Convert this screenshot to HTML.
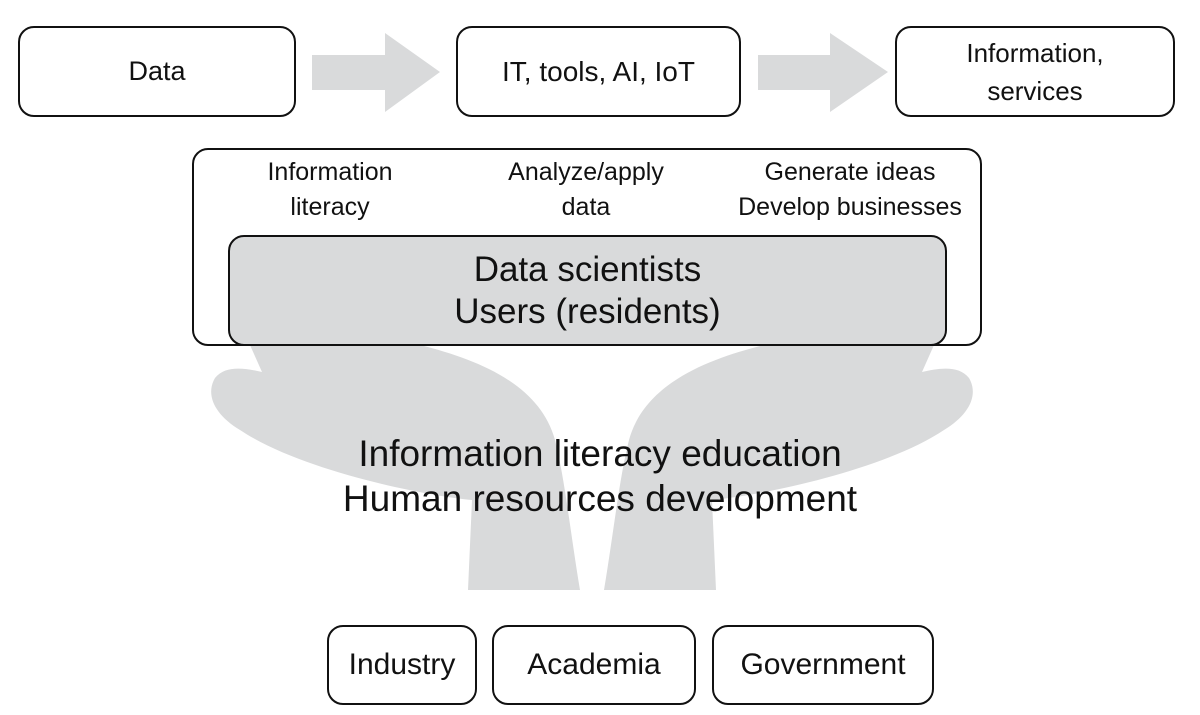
<!DOCTYPE html>
<html><head><style>
body{margin:0;width:1200px;height:715px;background:#fff;overflow:hidden;position:relative;font-family:"Liberation Sans",sans-serif;color:#111}
.b{position:absolute;border:2px solid #111;border-radius:16px;box-sizing:border-box;display:flex;align-items:center;justify-content:center;text-align:center}
.t{position:absolute;text-align:center;font-size:25px;line-height:35px}
</style></head><body>
<svg width="1200" height="715" style="position:absolute;left:0;top:0">
<g fill="#d9dadb">
<polygon points="312,55 385,55 385,33 440,72 385,112 385,90 312,90"/>
<polygon points="758,55 830,55 830,33 888,72 830,112 830,90 758,90"/>
<path d="M468,590 L472,500 C420,495 300,470 240,430 C215,415 205,395 215,378 C225,365 245,368 262,372 L250,345 L420,345 C480,360 540,385 555,440 C565,480 570,530 580,590 Z"/>
<path d="M716,590 L712,500 C764,495 884,470 944,430 C969,415 979,395 969,378 C959,365 939,368 922,372 L934,345 L764,345 C704,360 644,385 629,440 C619,480 614,530 604,590 Z"/>
</g>
</svg>
<div class="b" style="left:18px;top:26px;width:278px;height:91px;font-size:27px">Data</div>
<div class="b" style="left:456px;top:26px;width:285px;height:91px;font-size:28px">IT, tools, AI, IoT</div>
<div class="b" style="left:895px;top:26px;width:280px;height:91px;font-size:26px;line-height:38px">Information,<br>services</div>
<div class="b" style="left:192px;top:148px;width:790px;height:198px;background:#fff"></div>
<div class="t" style="left:230px;top:155px;width:200px">Information<br>literacy</div>
<div class="t" style="left:486px;top:155px;width:200px">Analyze/apply<br>data</div>
<div class="t" style="left:710px;top:155px;width:280px">Generate ideas<br>Develop businesses</div>
<div class="b" style="left:228px;top:235px;width:719px;height:111px;background:#d9dadb;font-size:35px;line-height:42px">Data scientists<br>Users (residents)</div>
<div class="t" style="left:250px;top:431px;width:700px;font-size:37px;line-height:45px">Information literacy education<br>Human resources development</div>
<div class="b" style="left:327px;top:625px;width:150px;height:80px;font-size:30px">Industry</div>
<div class="b" style="left:492px;top:625px;width:204px;height:80px;font-size:30px">Academia</div>
<div class="b" style="left:712px;top:625px;width:222px;height:80px;font-size:30px">Government</div>
</body></html>
